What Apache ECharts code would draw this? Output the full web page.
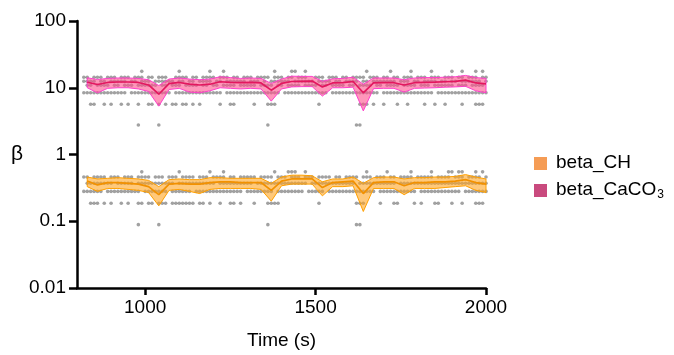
<!DOCTYPE html>
<html><head><meta charset="utf-8">
<script src="https://cdn.jsdelivr.net/npm/echarts@6/dist/echarts.min.js"></script>
<style>html,body{margin:0;padding:0;background:#fff}#c{width:674px;height:355px}</style>
</head><body><div id="c"></div>
<script>
// ---- data ----
const xTicks = [1000, 1500, 2000];
const yTicks = [0.01, 0.1, 1, 10, 100];

const bandTimes = [830,860,890,920,950,980,1010,1040,1070,1100,1130,1160,1190,1220,1250,1280,1310,1340,1370,1400,1430,1460,1490,1520,1550,1580,1610,1640,1670,1700,1730,1760,1790,1820,1850,1880,1910,1940,1970,2000];

const chMean  = [0.40,0.35,0.38,0.38,0.37,0.36,0.33,0.25,0.36,0.37,0.36,0.36,0.38,0.39,0.39,0.38,0.38,0.38,0.29,0.40,0.43,0.43,0.43,0.32,0.38,0.39,0.40,0.26,0.38,0.39,0.39,0.34,0.38,0.38,0.39,0.39,0.40,0.42,0.38,0.36];
const chUpper = [0.46,0.43,0.44,0.45,0.44,0.43,0.41,0.33,0.42,0.43,0.42,0.42,0.45,0.45,0.44,0.44,0.44,0.44,0.37,0.46,0.49,0.49,0.48,0.39,0.43,0.43,0.46,0.37,0.45,0.46,0.46,0.43,0.45,0.45,0.46,0.46,0.47,0.50,0.46,0.43];
const chLower = [0.33,0.28,0.31,0.31,0.30,0.29,0.27,0.17,0.29,0.30,0.28,0.26,0.30,0.31,0.31,0.31,0.31,0.30,0.20,0.34,0.36,0.36,0.36,0.24,0.33,0.33,0.34,0.14,0.31,0.31,0.31,0.25,0.31,0.31,0.31,0.32,0.33,0.34,0.29,0.27];

const caMean  = [12.1,11.2,12.0,12.2,12.2,12.0,11.0,8.0,11.5,12.0,11.3,11.0,11.3,12.3,12.0,11.9,12.0,11.8,9.2,11.6,12.4,12.5,12.6,10.3,11.8,11.9,12.4,8.4,11.8,11.9,11.9,11.0,11.9,12.0,12.1,12.3,12.5,13.0,11.8,11.4];
const caUpper = [14.1,13.3,13.8,14.0,14.0,13.8,13.2,10.8,13.5,14.0,13.5,13.2,13.5,14.6,14.2,13.8,14.0,13.8,11.6,13.5,14.9,14.8,14.8,12.5,13.6,13.8,14.4,11.3,14.0,14.0,14.0,13.2,14.0,14.2,14.2,14.4,14.6,15.3,14.2,13.8];
const caLower = [10.0,8.4,9.8,10.0,10.0,9.6,8.8,5.3,9.4,9.8,8.6,8.4,9.0,10.0,9.8,9.6,9.8,9.6,6.3,9.6,10.3,10.4,10.4,7.5,10.0,10.0,10.2,4.5,9.7,9.8,9.8,8.6,9.8,9.9,10.0,10.2,10.3,10.5,9.0,8.4];

// individual measurements (grey dots)
const dotTimes = [820,830,840,850,860,870,880,890,900,910,920,930,940,950,960,970,980,990,1000,1010,1020,1030,1040,1050,1060,1070,1080,1090,1100,1110,1120,1130,1140,1150,1160,1170,1180,1190,1200,1210,1220,1230,1240,1250,1260,1270,1280,1290,1300,1310,1320,1330,1340,1350,1360,1370,1380,1390,1400,1410,1420,1430,1440,1450,1460,1470,1480,1490,1500,1510,1520,1530,1540,1550,1560,1570,1580,1590,1600,1610,1620,1630,1640,1650,1660,1670,1680,1690,1700,1710,1720,1730,1740,1750,1760,1770,1780,1790,1800,1810,1820,1830,1840,1850,1860,1870,1880,1890,1900,1910,1920,1930,1940,1950,1960,1970,1980,1990,2000];

// dense rows: presence mask per dotTimes column
const chDenseLevels = [0.46, 0.37, 0.28];
const chDenseMasks = [
 "1101111011 1011101111 0111011101 1110111011 1101101111 1011110111 0111011101 1110110111 1011101110 1101111011 1110111101 110111101",
 "0111111110 1111101111 1111111011 1111111110 1111111111 0111111111 1111110111 1111111111 0111111111 1101111111 1111111111 111111111",
 "1111110111 1111111011 1111101111 1101111111 1111111011 1111110111 1111101111 1011111111 1111110111 1111111101 1111111111 101111111"
];
const caDenseLevels = [14.4, 12.5, 10.9, 8.4];
const caDenseMasks = [
 "1101110111 0111011101 1011100111 1011011110 1110110111 0111101110 1101110011 1011101101 1110111011 0110111011 1011101110 110111011",
 "1111011011 1110110111 0111111011 0110111101 1011111101 1101011111 1011111101 1110110111 1011011111 1101110110 1111011011 011111101",
 "0110111101 1011101111 1101101110 1111011011 0111101111 1011110110 1111011110 1101111011 0111101101 1110111101 1101111110 111011110",
 "1111111111 1110111111 1111110111 1111111111 1011111111 1111111101 1111111111 1101111111 1111111011 1111111111 1110111111 111111111"
];
// sparse rows: explicit times
const chSparseLevels = [0.55, 0.186, 0.089];
const chSparseTimes = [
 [990,1100,1190,1230,1380,1420,1430,1440,1470,1650,1710,1780,1840,1890,1900,1920,1930,1970,1990],
 [840,850,860,880,900,930,950,980,990,1010,1020,1040,1050,1060,1080,1090,1100,1110,1120,1130,1140,1160,1170,1190,1220,1250,1260,1280,1320,1360,1370,1380,1390,1510,1620,1630,1640,1690,1730,1740,1790,1810,1850,1860,1900,1930,1970,1980,1990],
 [980,1040,1360,1620,1630]
];
const caSparseLevels = [17.6, 5.66, 2.76];
const caSparseTimes = [
 [990,1100,1190,1230,1380,1430,1440,1470,1650,1720,1780,1840,1900,1930,1970,1990],
 [840,850,880,900,930,950,980,1010,1020,1040,1060,1080,1090,1110,1120,1140,1160,1220,1250,1260,1320,1360,1370,1380,1510,1630,1640,1650,1670,1700,1740,1770,1820,1850,1880,1930,1970,1980,1990],
 [980,1040,1360,1620,1630]
];

// ---- build ----
function dots(denseLevels, denseMasks, sparseLevels, sparseTimes) {
  const out = [];
  denseMasks.forEach((m, r) => {
    const s = m.replace(/ /g, '');
    for (let i = 0; i < s.length && i < dotTimes.length; i++) if (s[i] === '1') out.push([dotTimes[i], denseLevels[r]]);
  });
  sparseTimes.forEach((list, r) => list.forEach(t => out.push([t, sparseLevels[r]])));
  return out;
}
const allDots = dots(chDenseLevels, chDenseMasks, chSparseLevels, chSparseTimes)
  .concat(dots(caDenseLevels, caDenseMasks, caSparseLevels, caSparseTimes));

function band(upper, lower, mean, fill, stroke) {
  return {
    type: 'custom', silent: true, z: 3,
    data: bandTimes.map((t, i) => [t, mean[i]]),
    encode: {x: 0, y: 1},
    renderItem: function (params, api) {
      if (params.dataIndex !== 0) return;
      const pts = [];
      for (let i = 0; i < bandTimes.length; i++) pts.push(api.coord([bandTimes[i], upper[i]]));
      for (let i = bandTimes.length - 1; i >= 0; i--) pts.push(api.coord([bandTimes[i], lower[i]]));
      return {type: 'polygon', shape: {points: pts}, style: {fill: fill, stroke: stroke, lineWidth: 1}};
    }
  };
}

const FONT = "'Liberation Sans', Arial, Helvetica, sans-serif";
const chart = echarts.init(document.getElementById('c'), null, {renderer: 'canvas'});
chart.setOption({
  animation: false,
  backgroundColor: '#fff',
  textStyle: {fontFamily: FONT},
  grid: {left: 77, right: 188, top: 21, bottom: 63, containLabel: false},
  xAxis: {
    type: 'value', min: 800, max: 2000,
    name: 'Time (s)', nameLocation: 'middle', nameGap: 43,
    nameTextStyle: {fontSize: 19, color: '#000', fontFamily: FONT},
    axisLine: {show: true, onZero: false, lineStyle: {color: '#000', width: 2.5}},
    axisTick: {show: true, length: 7, lineStyle: {color: '#000', width: 2.5}, customValues: xTicks},
    axisLabel: {fontSize: 19, color: '#000', margin: 10, fontFamily: FONT, customValues: xTicks,
      formatter: v => String(v)},
    splitLine: {show: false}
  },
  yAxis: {
    type: 'log', logBase: 10, min: 0.01, max: 100,
    name: 'β', nameLocation: 'middle', nameRotate: 0, nameGap: 46,
    nameTextStyle: {fontSize: 21, color: '#000', fontFamily: FONT},
    axisLine: {show: true, lineStyle: {color: '#000', width: 2.5}},
    axisTick: {show: true, length: 8, lineStyle: {color: '#000', width: 2.5}, customValues: yTicks},
    axisLabel: {fontSize: 19, color: '#000', margin: 11, fontFamily: FONT, customValues: yTicks,
      formatter: v => String(v)},
    minorTick: {show: false},
    splitLine: {show: false}
  },
  legend: {
    orient: 'vertical', left: 529, top: 148, itemWidth: 13, itemHeight: 13, itemGap: 8,
    icon: 'rect', selectedMode: false,
    data: [{name: 'beta_CH', itemStyle: {color: '#f59c55'}}, {name: 'beta_CaCO3', itemStyle: {color: '#c94a7e'}}],
    formatter: n => n === 'beta_CaCO3' ? '{t|beta_CaCO}{s|3}' : '{t|beta_CH}',
    textStyle: {
      padding: [0, 0, 0, 4],
      rich: {
        t: {fontSize: 19, lineHeight: 21, color: '#000', fontFamily: FONT, verticalAlign: 'top'},
        s: {fontSize: 12, lineHeight: 13, color: '#000', fontFamily: FONT, padding: [9, 0, 0, 1]}
      }
    }
  },
  series: [
    {type: 'scatter', name: 'points', data: allDots, symbol: 'circle', symbolSize: 3.6, z: 2, silent: true,
      itemStyle: {color: 'rgba(40,40,40,0.55)'}},
    band(chUpper, chLower, chMean, 'rgba(255,165,35,0.6)', '#ffa000'),
    band(caUpper, caLower, caMean, 'rgba(255,80,140,0.6)', '#ff40cc'),
    {type: 'line', name: 'beta_CH', data: bandTimes.map((t, i) => [t, chMean[i]]), symbol: 'none', z: 4,
      lineStyle: {color: '#f29100', width: 1.7}, itemStyle: {color: '#f59c55'}},
    {type: 'line', name: 'beta_CaCO3', data: bandTimes.map((t, i) => [t, caMean[i]]), symbol: 'none', z: 4,
      lineStyle: {color: '#e3175f', width: 1.7}, itemStyle: {color: '#c94a7e'}}
  ]
});
</script></body></html>
